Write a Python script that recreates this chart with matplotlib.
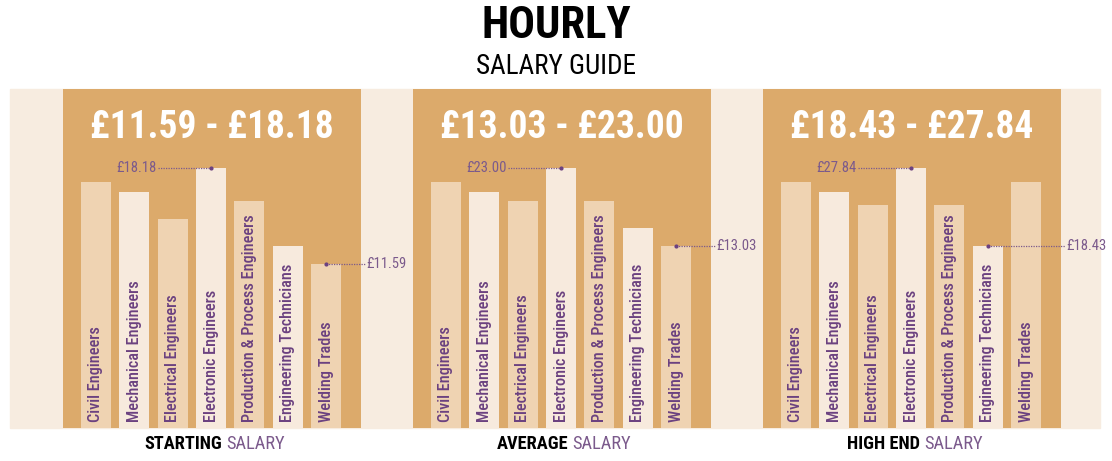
import matplotlib
matplotlib.use("Agg")
import matplotlib.pyplot as plt
from matplotlib import font_manager

# ---- data ----
CATEGORIES = ["Civil Engineers", "Mechanical Engineers", "Electrical Engineers",
              "Electronic Engineers", "Production & Process Engineers",
              "Engineering Technicians", "Welding Trades"]
STARTING = [17.22, 16.53, 14.68, 18.18, 15.92, 12.83, 11.59]
AVERAGE = [21.23, 19.95, 18.80, 23.00, 18.80, 15.35, 13.03]
HIGH_END = [26.15, 24.95, 23.38, 27.84, 23.38, 18.43, 26.15]
PANEL_BOLD = ["STARTING", "AVERAGE", "HIGH END"]
PANEL_MIN_LABEL = ["£11.59", "£13.03", "£18.43"]
PANEL_MAX_LABEL = ["£18.18", "£23.00", "£27.84"]

# ---- style ----
W, H = 1112, 461
TAN = "#dcaa6b"
STRIP = "#f7ece0"
BAR_A = "#efd3b2"
BAR_B = "#f7eadd"
PURPLE = "#6b4180"
PURPLE_L = "#7b5a8c"

names = {f.name for f in font_manager.fontManager.ttflist}
COND = next((n for n in ["Roboto Condensed", "Liberation Sans Narrow",
                         "Open Sans Condensed"] if n in names), "DejaVu Sans")
FONT = dict(family=COND, stretch="condensed")


def px(x0, y0, x1, y1):
    return [x0 / W, 1 - y1 / H, (x1 - x0) / W, (y1 - y0) / H]


fig = plt.figure(figsize=(W / 100, H / 100), dpi=100)
fig.patch.set_facecolor("white")
fig.add_artist(plt.Rectangle((10 / W, 1 - 428 / H), 1090 / W, 339 / H,
                             transform=fig.transFigure, color=STRIP, zorder=0))

fig.text(0.5, 1 - 26 / H, "HOURLY", ha="center", va="center", fontsize=32,
         fontweight="bold", color="black", **FONT)
fig.text(0.5, 1 - 67 / H, "SALARY GUIDE", ha="center", va="center", fontsize=19.5,
         color="black", **FONT)

panels = [(63, STARTING, 0.34, 23.6, 222),
          (413, AVERAGE, -10.2, 33.1, 568),
          (763, HIGH_END, -3.52, 37.4, 920)]

for i, (left, vals, ylo, yhi, split) in enumerate(panels):
    ax = fig.add_axes(px(left, 89, left + 298, 428))
    ax.set_facecolor(TAN)
    for s in ax.spines.values():
        s.set_visible(False)
    ax.set_xticks([]); ax.set_yticks([])
    ax.set_xlim(-0.86, 6.91); ax.set_ylim(ylo, yhi)

    x = list(range(len(vals)))
    cols = [BAR_A if k % 2 == 0 else BAR_B for k in x]
    ax.bar(x, [v - ylo for v in vals], bottom=ylo, width=0.78, color=cols, zorder=2)

    for k, c in enumerate(CATEGORIES):
        ax.text(k, 0.018, c, transform=ax.get_xaxis_transform(), rotation=90,
                ha="center", va="bottom", fontsize=11.7, fontweight="medium",
                color=PURPLE, zorder=3, **FONT)

    # range heading
    ax.text(0.5, 0.885, f"{PANEL_MIN_LABEL[i]} - {PANEL_MAX_LABEL[i]}", transform=ax.transAxes,
            ha="center", va="center", fontsize=27, fontweight="bold", color="white", **FONT)

    # max / min callouts
    kmax = vals.index(max(vals)); kmin = vals.index(min(vals))
    vmax, vmin = vals[kmax], vals[kmin]
    ax.plot([1.62, kmax], [vmax, vmax], ls=(0, (1, 1)), lw=0.9, color=PURPLE_L, zorder=4)
    ax.plot([kmax], [vmax], "o", ms=2, color=PURPLE, zorder=4)
    ax.text(1.58, vmax, PANEL_MAX_LABEL[i], ha="right", va="center", fontsize=10.5,
            color=PURPLE_L, **FONT)
    ax.plot([kmin, 7.02], [vmin, vmin], ls=(0, (1, 1)), lw=0.9, color=PURPLE_L,
            zorder=4, clip_on=False)
    ax.plot([kmin], [vmin], "o", ms=2, color=PURPLE, zorder=4)
    ax.text(7.05, vmin, PANEL_MIN_LABEL[i], ha="left", va="center", fontsize=10.5,
            color=PURPLE_L, clip_on=False, **FONT)

    # footer
    fig.text(split / W, 1 - 444 / H, PANEL_BOLD[i], ha="right", va="center", fontsize=13.2,
             fontweight="bold", color="black", **FONT)
    fig.text((split + 4) / W, 1 - 444 / H, "SALARY", ha="left", va="center", fontsize=13.2,
             color=PURPLE_L, **FONT)

fig.savefig("out.png", dpi=100)
